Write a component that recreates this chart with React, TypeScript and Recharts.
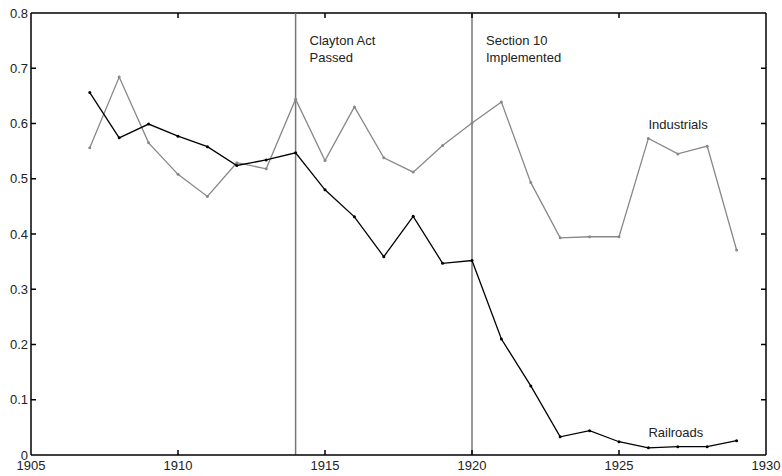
import React from 'react';
import { LineChart, Line, XAxis, YAxis, ReferenceLine, ReferenceDot } from 'recharts';

const years = [1907, 1908, 1909, 1910, 1911, 1912, 1913, 1914, 1915, 1916, 1917, 1918, 1919, 1920, 1921, 1922, 1923, 1924, 1925, 1926, 1927, 1928, 1929];
const railroads = [0.656, 0.574, 0.599, 0.577, 0.558, 0.524, 0.534, 0.547, 0.48, 0.431, 0.359, 0.432, 0.347, 0.352, 0.21, 0.125, 0.033, 0.044, 0.024, 0.013, 0.015, 0.015, 0.026];
const industrials = [0.556, 0.684, 0.565, 0.508, 0.468, 0.529, 0.518, 0.644, 0.533, 0.63, 0.538, 0.512, 0.56, 0.601, 0.639, 0.493, 0.393, 0.395, 0.395, 0.573, 0.545, 0.559, 0.371];

const xTicks = [1905, 1910, 1915, 1920, 1925, 1930];
const yTicks = [0, 0.1, 0.2, 0.3, 0.4, 0.5, 0.6, 0.7, 0.8];

const events = [
  { year: 1914, lines: ['Clayton Act', 'Passed'] },
  { year: 1920, lines: ['Section 10', 'Implemented'] },
];

const seriesLabels = [
  { name: 'Industrials', x: 1926, y: 0.599 },
  { name: 'Railroads', x: 1926, y: 0.04 },
];

const data = years.map((year, i) => ({
  year,
  railroads: railroads[i],
  industrials: industrials[i],
}));

const FONT = '"Liberation Sans", Arial, sans-serif';
const FS = 13;
const TEXT = '#222';
const W = 782;
const H = 476;
const margin = { top: 13, right: 16, bottom: 1, left: 8 };
const Y_AXIS_W = 23;
const X_AXIS_H = 20;
const PLOT_W = W - margin.left - margin.right - Y_AXIS_W;
const PLOT_H = H - margin.top - margin.bottom - X_AXIS_H;
const TICK = 5;

// ticks point inward, and are mirrored on the top / right border
function XTick({ x, y, payload, index }: any) {
  const inner = index > 0 && index < xTicks.length - 1;
  return (
    <g>
      {inner && <line x1={x} x2={x} y1={y} y2={y - TICK} stroke="#000" strokeWidth={1.5} />}
      {inner && <line x1={x} x2={x} y1={y - PLOT_H} y2={y - PLOT_H + TICK} stroke="#000" strokeWidth={1.5} />}
      <text x={x} y={y + 15} textAnchor="middle" fontSize={FS} fill={TEXT} fontFamily={FONT}>
        {payload.value}
      </text>
    </g>
  );
}

function YTick({ x, y, payload, index }: any) {
  const inner = index > 0 && index < yTicks.length - 1;
  return (
    <g>
      {inner && <line x1={x} x2={x + TICK} y1={y} y2={y} stroke="#000" strokeWidth={1.5} />}
      {inner && <line x1={x + PLOT_W} x2={x + PLOT_W - TICK} y1={y} y2={y} stroke="#000" strokeWidth={1.5} />}
      <text x={x - 3} y={y + 4.5} textAnchor="end" fontSize={FS} fill={TEXT} fontFamily={FONT}>
        {payload.value === 0 ? '0' : String(payload.value)}
      </text>
    </g>
  );
}

function EventLabel({ viewBox, lines }: any) {
  return (
    <text x={viewBox.x + 14} y={viewBox.y + 32} fontSize={FS} fill={TEXT} fontFamily={FONT}>
      {lines.map((l: string, i: number) => (
        <tspan key={i} x={viewBox.x + 14} dy={i === 0 ? 0 : 16.5}>{l}</tspan>
      ))}
    </text>
  );
}

function SeriesLabel({ viewBox, name }: any) {
  return (
    <text x={viewBox.x} y={viewBox.y + 4.5} fontSize={FS} fill={TEXT} fontFamily={FONT}>
      {name}
    </text>
  );
}

export default function App() {
  return (
    <div style={{ width: W, height: H, fontFamily: FONT }}>
      <style>{'body{margin:0}'}</style>
      <LineChart width={W} height={H} data={data} margin={margin}>
        <XAxis
          dataKey="year"
          type="number"
          domain={[1905, 1930]}
          ticks={xTicks}
          tickSize={0}
          tickMargin={0}
          tickLine={false}
          height={X_AXIS_H}
          interval={0}
          stroke="#000"
          strokeWidth={1.5}
          tick={<XTick />}
        />
        <YAxis
          type="number"
          domain={[0, 0.8]}
          ticks={yTicks}
          tickSize={0}
          tickMargin={0}
          tickLine={false}
          width={Y_AXIS_W}
          interval={0}
          stroke="#000"
          strokeWidth={1.5}
          tick={<YTick />}
        />
        <ReferenceLine y={0.8} stroke="#000" strokeWidth={1.5} />
        <ReferenceLine x={1930} stroke="#000" strokeWidth={1.5} />
        {events.map((e) => (
          <ReferenceLine
            key={e.year}
            x={e.year}
            stroke="#777"
            strokeWidth={1.5}
            label={(props: any) => <EventLabel {...props} lines={e.lines} />}
          />
        ))}
        <Line
          type="linear"
          dataKey="industrials"
          stroke="#888"
          strokeWidth={1.3}
          dot={{ r: 1.5, fill: '#888', stroke: '#888', strokeWidth: 0 }}
          isAnimationActive={false}
        />
        <Line
          type="linear"
          dataKey="railroads"
          stroke="#000"
          strokeWidth={1.3}
          dot={{ r: 1.5, fill: '#000', stroke: '#000', strokeWidth: 0 }}
          isAnimationActive={false}
        />
        {seriesLabels.map((s) => (
          <ReferenceDot
            key={s.name}
            x={s.x}
            y={s.y}
            r={0}
            fill="none"
            stroke="none"
            label={(props: any) => <SeriesLabel {...props} name={s.name} />}
          />
        ))}
      </LineChart>
    </div>
  );
}
